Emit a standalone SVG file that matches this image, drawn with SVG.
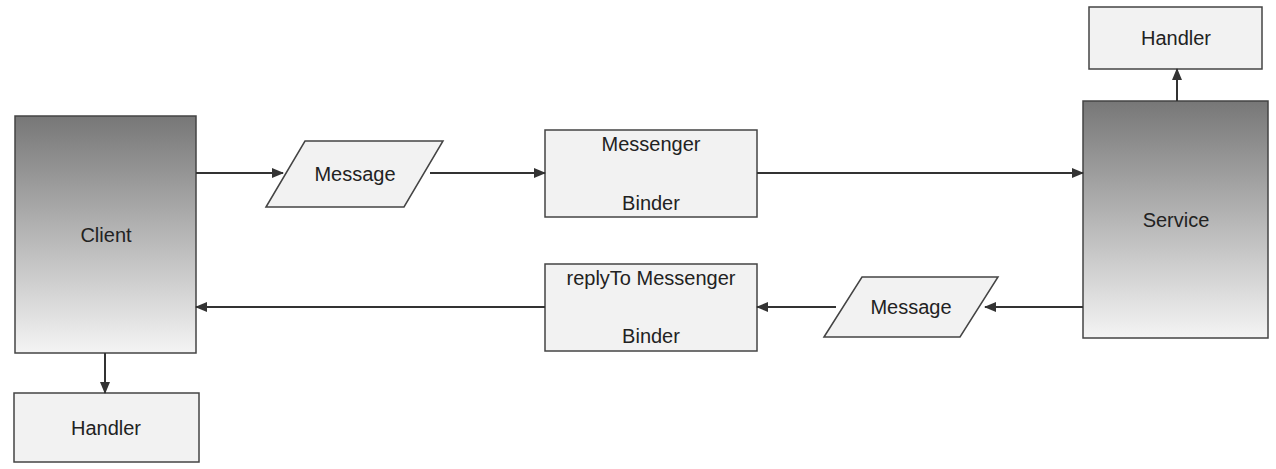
<svg xmlns="http://www.w3.org/2000/svg" width="1276" height="469" viewBox="0 0 1276 469">
<defs>
<linearGradient id="g" x1="0" y1="0" x2="0" y2="1"><stop offset="0" stop-color="#777"/><stop offset="1" stop-color="#f4f4f4"/></linearGradient>
<marker id="a" markerWidth="12" markerHeight="10" refX="11" refY="5" orient="auto" markerUnits="userSpaceOnUse"><path d="M0,0 L12,5 L0,10 Z" fill="#333"/></marker>
</defs>
<style>
.b{fill:#f2f2f2;stroke:#444;stroke-width:1.5}
.d{fill:url(#g);stroke:#444;stroke-width:1.5}
text{font-family:"Liberation Sans",Arial,sans-serif;font-size:20px;fill:#222;text-anchor:middle}
.c line{stroke:#333;stroke-width:2;marker-end:url(#a)}
</style>
<rect width="1276" height="469" fill="#fff"/>
<g id="client"><rect class="d" x="15" y="116" width="181" height="237"/><text x="106" y="242">Client</text></g>
<g id="service"><rect class="d" x="1083" y="101" width="185" height="237"/><text x="1176" y="227">Service</text></g>
<g id="handler-top"><rect class="b" x="1089" y="7" width="173" height="62"/><text x="1176" y="45">Handler</text></g>
<g id="handler-bottom"><rect class="b" x="14" y="393" width="185" height="69"/><text x="106" y="435">Handler</text></g>
<g id="message-top"><polygon class="b" points="266,207 305,141 443,141 404,207"/><text x="355" y="181">Message</text></g>
<g id="messenger-binder"><rect class="b" x="545" y="130" width="212" height="87"/><text x="651" y="151">Messenger</text><text x="651" y="210">Binder</text></g>
<g id="reply-binder"><rect class="b" x="545" y="264" width="212" height="87"/><text x="651" y="285">replyTo  Messenger</text><text x="651" y="343">Binder</text></g>
<g id="message-bottom"><polygon class="b" points="824,337 862,277 998,277 960,337"/><text x="911" y="314">Message</text></g>
<g class="c" id="connectors">
<line x1="196" y1="173" x2="283" y2="173"/>
<line x1="430" y1="173" x2="545" y2="173"/>
<line x1="757" y1="173" x2="1083" y2="173"/>
<line x1="1083" y1="307" x2="985" y2="307"/>
<line x1="836" y1="307" x2="757" y2="307"/>
<line x1="545" y1="307" x2="196" y2="307"/>
<line x1="105" y1="353" x2="105" y2="393"/>
<line x1="1177" y1="101" x2="1177" y2="69"/>
</g>
</svg>
